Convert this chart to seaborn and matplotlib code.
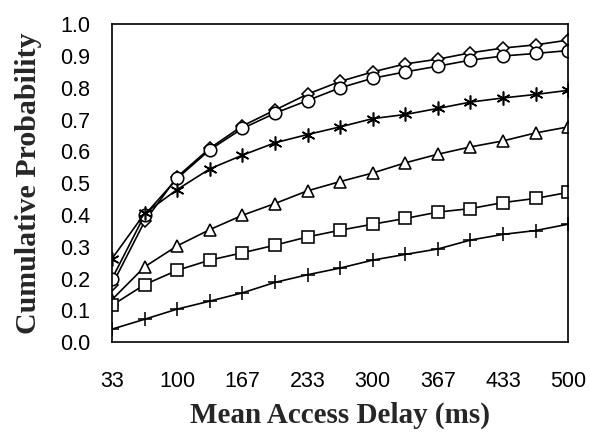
import numpy as np
import pandas as pd
import seaborn as sns
from matplotlib import pyplot as plt

# mean access delay (ms), 15 categories
delays = ["33", "67", "100", "133", "167", "200", "233", "267",
          "300", "333", "367", "400", "433", "467", "500"]

diamond = [0.18, 0.38, 0.52, 0.61, 0.68, 0.73, 0.78, 0.82, 0.85, 0.875, 0.89, 0.91, 0.925, 0.935, 0.95]
circle = [0.20, 0.40, 0.515, 0.605, 0.672, 0.72, 0.76, 0.80, 0.83, 0.85, 0.868, 0.887, 0.90, 0.908, 0.917]
star = [0.263, 0.405, 0.48, 0.545, 0.588, 0.627, 0.653, 0.677, 0.703, 0.716, 0.735, 0.755, 0.768, 0.779, 0.792]
triangle = [0.134, 0.237, 0.303, 0.354, 0.399, 0.436, 0.476, 0.505, 0.532, 0.564, 0.591, 0.614, 0.633, 0.658, 0.677]
square = [0.116, 0.181, 0.226, 0.258, 0.281, 0.305, 0.331, 0.352, 0.371, 0.389, 0.409, 0.42, 0.439, 0.452, 0.471]
plus = [0.041, 0.072, 0.104, 0.129, 0.155, 0.188, 0.212, 0.233, 0.258, 0.276, 0.293, 0.321, 0.339, 0.351, 0.371]

series = {"diamond": diamond, "circle": circle, "star": star,
          "triangle": triangle, "square": square, "plus": plus}
markers = {"diamond": "D", "circle": "o", "star": (6, 2, 0),
           "triangle": "^", "square": "s", "plus": "+"}
msizes = {"diamond": 6.5, "circle": 9, "star": 10, "triangle": 9, "square": 9, "plus": 9.5}

sns.set_style("white")

pos = np.arange(len(delays))
rows = []
for name, vals in series.items():
    for p, v in zip(pos, vals):
        rows.append({"pos": p, "prob": v, "series": name})
df = pd.DataFrame(rows)

fig = plt.figure(figsize=(5.9, 4.32), dpi=100)
ax = fig.add_axes([0.19, 0.208, 0.773, 0.736])

for name in series:
    sub = df[df["series"] == name]
    sns.lineplot(data=sub, x="pos", y="prob", ax=ax, color="black", lw=1.2,
                 marker=markers[name], markersize=msizes[name],
                 markerfacecolor="white", markeredgecolor="black",
                 markeredgewidth=1.15, legend=False)

ax.set_xlim(0, len(delays) - 1)
ax.set_ylim(0, 1.0)
ax.set_xticks(pos)
ax.set_xticklabels([d if i % 2 == 0 else "" for i, d in enumerate(delays)])
ax.set_yticks(np.arange(0, 1.01, 0.1))
ax.set_yticklabels(["%.1f" % v for v in np.arange(0, 1.01, 0.1)])
ax.tick_params(axis="both", direction="out", length=5.5, width=1, color="black",
               labelsize=15.5, labelcolor="black")
ax.tick_params(axis="x", pad=15)
ax.tick_params(axis="y", pad=10)
for lab in ax.get_xticklabels() + ax.get_yticklabels():
    lab.set_fontfamily("Liberation Sans")
for s in ax.spines.values():
    s.set_color("black")
    s.set_linewidth(1.2)

ax.set_xlabel("Mean Access Delay (ms)", fontfamily="Liberation Serif",
              fontweight="bold", fontsize=21, labelpad=7)
ax.set_ylabel("Cumulative Probability", fontfamily="Liberation Serif",
              fontweight="bold", fontsize=21.5, labelpad=13)

fig.savefig("out.png", dpi=100)
